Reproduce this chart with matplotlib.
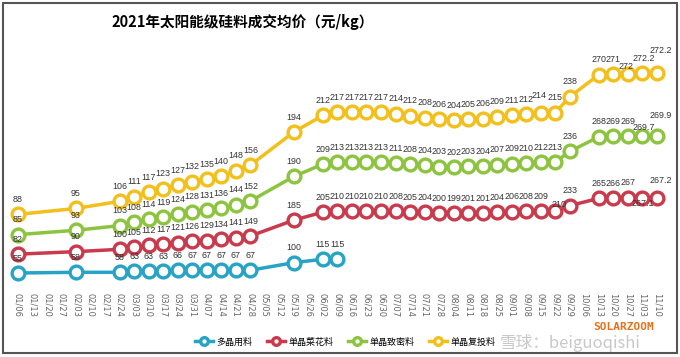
import numpy as np
import pandas as pd
import matplotlib
matplotlib.use('Agg')
import matplotlib.pyplot as plt
from matplotlib.patches import Rectangle

plt.rcParams['font.family'] = ['Noto Sans CJK SC', 'DejaVu Sans']

dates = ['01/06', '01/13', '01/20', '01/27', '02/03', '02/10', '02/17', '02/24',
         '03/03', '03/10', '03/17', '03/24', '03/31', '04/07', '04/14', '04/21',
         '04/28', '05/05', '05/12', '05/19', '05/26', '06/02', '06/09', '06/16',
         '06/23', '06/30', '07/07', '07/14', '07/21', '07/28', '08/04', '08/11',
         '08/18', '08/25', '09/01', '09/08', '09/15', '09/22', '09/29', '10/06',
         '10/13', '10/20', '10/27', '11/03', '11/10']
N = None

# 多晶用料
poly = [55, N, N, N, 58, N, N, 58, 63, 63, 63, 66, 67, 67, 67, 67, 67, N, N, 100,
        N, 115, 115, N, N, N, N, N, N, N, N, N, N, N, N, N, N, N, N, N, N, N, N, N, N]
# 单晶菜花料
cauli = [82, N, N, N, 90, N, N, 100, 105, 112, 117, 121, 126, 129, 134, 141, 149, N, N, 185,
         N, 205, 210, 210, 210, 210, 208, 205, 204, 200, 199, 201, 201, 204, 206, 208, 209, 210,
         233, N, 265, 266, 267, 267.1, 267.2]
# 单晶致密料
dense = [85, N, N, N, 93, N, N, 103, 108, 114, 119, 124, 128, 131, 136, 144, 152, N, N, 190,
         N, 209, 213, 213, 213, 213, 211, 208, 204, 203, 202, 203, 204, 207, 209, 210, 212, 213,
         236, N, 268, 269, 269, 269.7, 269.9]
# 单晶复投料
recharge = [88, N, N, N, 95, N, N, 106, 111, 117, 123, 127, 132, 135, 140, 148, 156, N, N, 194,
            N, 212, 217, 217, 217, 217, 214, 212, 208, 206, 204, 205, 206, 209, 211, 212, 214, 215,
            238, N, 270, 271, 272, 272.2, 272.2]

names = ['多晶用料', '单晶菜花料', '单晶致密料', '单晶复投料']
colors = ['#27A3C6', '#C83A4C', '#8DC43F', '#F2BF1B']

# label nudges (points) where excel put the label off its usual spot
nudge = {
    (1, '09/22'): (3, -6), (1, '11/03'): (0, -15), (1, '11/10'): (3, 2),
    (2, '11/03'): (1, -5), (2, '11/10'): (3, 4),
    (3, '09/15'): (-1, 2), (3, '10/27'): (-1, -6), (3, '11/03'): (1, 0),
    (3, '11/10'): (3, 6),
}

df = pd.DataFrame({'poly': poly, 'cauli': cauli, 'dense': dense, 'recharge': recharge},
                  dtype=float)
x = np.arange(len(dates))

# stacked line chart (excel style): blue keeps its last value in the stack
base = df['poly'].ffill()
stack = [df['poly'], base + df['cauli'], base + df['cauli'] + df['dense'],
         base + df['cauli'] + df['dense'] + df['recharge']]
vals = [df['poly'], df['cauli'], df['dense'], df['recharge']]

fig = plt.figure(figsize=(6.8, 3.57), dpi=100)
ax = fig.add_axes([10.7 / 680, 1 - 290 / 357, 653.5 / 680, 230 / 357])

for k, (s, v, c, lab) in enumerate(zip(stack, vals, colors, names)):
    m = v.notna().values
    ax.plot(x[m], s[m], color=c, lw=2.5, marker='o', ms=9.2, mfc='white',
            mec=c, mew=2.4, label=lab, clip_on=False, zorder=3)
    for xi, yi, vi in zip(x[m], s[m], v[m]):
        dx, dy = nudge.get((k, dates[xi]), (0, 0))
        ax.annotate(f'{vi:g}', (xi, yi), xytext=(dx, 7.5 + dy), textcoords='offset points',
                    ha='center', va='bottom', fontsize=6.4, color='#333333',
                    family=['Liberation Sans', 'DejaVu Sans'], zorder=4)

ax.set_xlim(-0.5, len(dates) - 0.5)
ax.set_ylim(-19, 982)
ax.set_xticks(x)
ax.set_xticklabels(dates, rotation=-90, fontsize=6, color='#666666',
                   family=['DejaVu Sans'])
ax.tick_params(axis='x', length=0, pad=2)
ax.set_yticks([])
for sp in ax.spines.values():
    sp.set_visible(False)

fig.text(243 / 680, 1 - 22 / 357, '2021年太阳能级硅料成交均价（元/kg）',
         ha='center', va='center', fontsize=10.5, fontweight='bold')

leg = fig.legend(loc='center', bbox_to_anchor=(345 / 680, 1 - 342 / 357), ncol=4,
                 frameon=False, fontsize=6.5, handlelength=2.0, columnspacing=1.6,
                 handletextpad=0.4, markerscale=0.6)

fig.text(593 / 680, 1 - 327 / 357, 'SOLARZOOM', ha='left', va='center',
         fontsize=8, fontweight='bold', color='#E8701A', family=['DejaVu Sans Mono'])
fig.text(500 / 680, 1 - 343 / 357, '雪球：beiguoqishi', ha='left', va='center',
         fontsize=12, color='#BBBBBB', alpha=0.8)

fig.add_artist(Rectangle((3 / 680, 4 / 357), 674 / 680, 350 / 357,
                         transform=fig.transFigure, fill=False,
                         edgecolor='#555555', lw=1.5))

fig.savefig('out.png', dpi=100)
